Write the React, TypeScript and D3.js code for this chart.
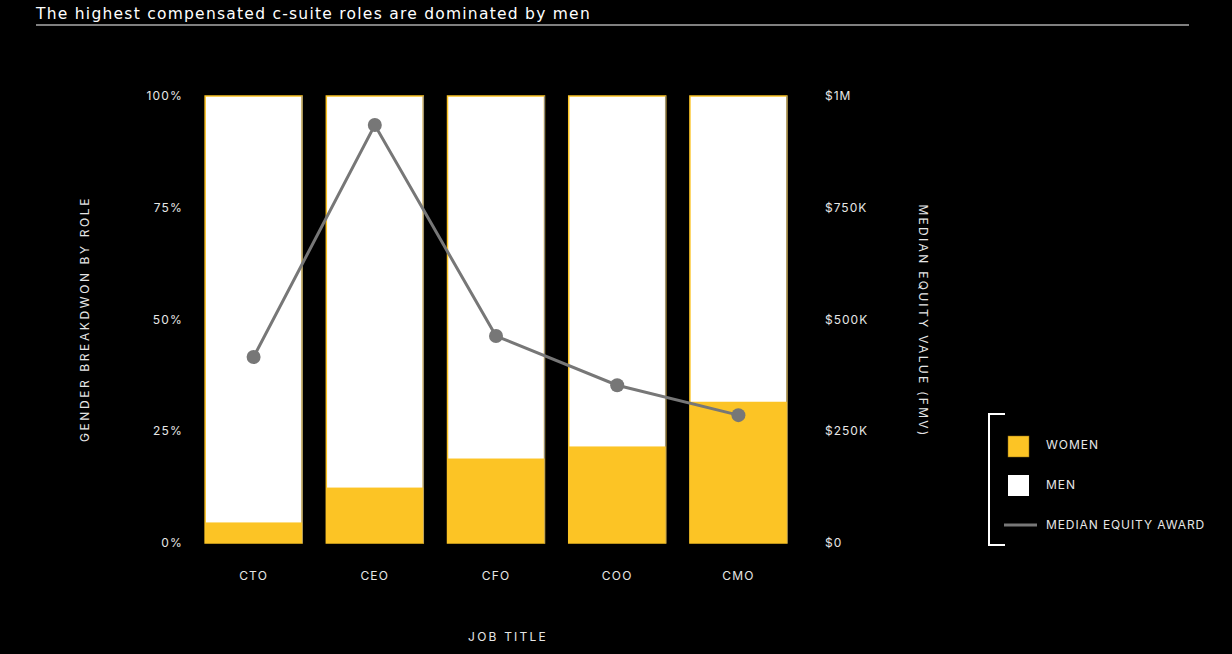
import React from "react";
import * as d3 from "d3";

const roles = ["CTO", "CEO", "CFO", "COO", "CMO"];
const womenShare = [4.6, 12.4, 18.9, 21.6, 31.6];
const medianEquity = [416000, 935000, 463000, 353000, 286000];
const leftTicks = [0, 25, 50, 75, 100];
const rightTicks = [0, 250000, 500000, 750000, 1000000];
const rightTickLabels = ["$0", "$250K", "$500K", "$750K", "$1M"];

const W = 1232;
const H = 654;
const YELLOW = "#fcc425";
const GRAY = "#777777";
const TXT = "#e6e6e6";
const FONT = "Inter, 'DejaVu Sans', sans-serif";

export default function App() {
  const x = d3.scaleBand<string>().domain(roles).range([193, 799]).paddingInner(0.2).paddingOuter(0.1);
  const yPct = d3.scaleLinear().domain([0, 100]).range([543, 96]);
  const yVal = d3.scaleLinear().domain([0, 1000000]).range([543, 96]);
  const line = d3
    .line<number>()
    .x((_, i) => (x(roles[i]) as number) + x.bandwidth() / 2)
    .y((d) => yVal(d));

  return (
    <svg width={W} height={H} style={{ position: "absolute", left: 0, top: 0, background: "#000" }}>
      <rect x={0} y={0} width={W} height={H} fill="#000" />
      <text x={36} y={19} fill="#fff" fontFamily="'DejaVu Sans', sans-serif" fontSize={15.5} letterSpacing={1.25}>
        The highest compensated c-suite roles are dominated by men
      </text>
      <line x1={36} x2={1189} y1={25} y2={25} stroke="#fff" strokeWidth={1} />

      {leftTicks.map((t) => (
        <text key={t} x={183} y={yPct(t) + 4} textAnchor="end" fill={TXT} fontFamily={FONT} fontSize={12} letterSpacing={1.2}>
          {t}%
        </text>
      ))}
      {rightTicks.map((t, i) => (
        <text key={t} x={825} y={yVal(t) + 4} textAnchor="start" fill={TXT} fontFamily={FONT} fontSize={12} letterSpacing={1}>
          {rightTickLabels[i]}
        </text>
      ))}

      {roles.map((r, i) => {
        const bx = x(r) as number;
        const bw = x.bandwidth();
        return (
          <g key={r}>
            <rect x={bx} y={yPct(100)} width={bw} height={yPct(0) - yPct(100)} fill="#fff" stroke={YELLOW} strokeWidth={1.5} />
            <line x1={bx + bw} x2={bx + bw} y1={yPct(100)} y2={yPct(0)} stroke="#888" strokeWidth={1} />
            <rect x={bx} y={yPct(womenShare[i])} width={bw} height={yPct(0) - yPct(womenShare[i])} fill={YELLOW} />
            <text x={bx + bw / 2} y={580} textAnchor="middle" fill={TXT} fontFamily={FONT} fontSize={12} letterSpacing={1.2}>
              {r}
            </text>
          </g>
        );
      })}

      <path d={line(medianEquity) || ""} fill="none" stroke={GRAY} strokeWidth={3} />
      {medianEquity.map((v, i) => (
        <circle key={i} cx={(x(roles[i]) as number) + x.bandwidth() / 2} cy={yVal(v)} r={7} fill={GRAY} />
      ))}

      <text x={508} y={641} textAnchor="middle" fill={TXT} fontFamily={FONT} fontSize={12} letterSpacing={2.2}>
        JOB TITLE
      </text>
      <text transform="translate(89,319) rotate(-90)" textAnchor="middle" fill={TXT} fontFamily={FONT} fontSize={12} letterSpacing={2.6}>
        GENDER BREAKDWON BY ROLE
      </text>
      <text transform="translate(919,321) rotate(90)" textAnchor="middle" fill={TXT} fontFamily={FONT} fontSize={12} letterSpacing={2.3}>
        MEDIAN EQUITY VALUE (FMV)
      </text>

      <path d="M1005,414 H989 V545 H1005" fill="none" stroke="#fff" strokeWidth={2} />
      <rect x={1008} y={436} width={21} height={21} fill={YELLOW} stroke="#8a6a10" strokeWidth={0.5} />
      <rect x={1008} y={475} width={21} height={21} fill="#fff" />
      <line x1={1004} x2={1037} y1={525} y2={525} stroke={GRAY} strokeWidth={3} />
      <text x={1046} y={449} fill={TXT} fontFamily={FONT} fontSize={12} letterSpacing={1}>WOMEN</text>
      <text x={1046} y={489} fill={TXT} fontFamily={FONT} fontSize={12} letterSpacing={1}>MEN</text>
      <text x={1046} y={529} fill={TXT} fontFamily={FONT} fontSize={12} letterSpacing={0.9}>MEDIAN EQUITY AWARD</text>
    </svg>
  );
}
